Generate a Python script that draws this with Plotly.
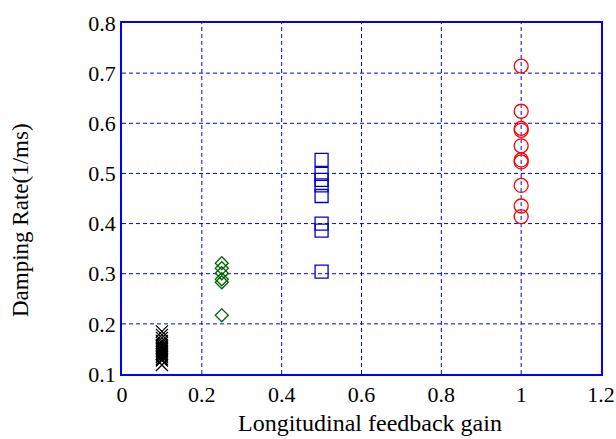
import plotly.graph_objects as go

gain_black = 0.1
rate_black = [0.185, 0.178, 0.172, 0.166, 0.162, 0.158, 0.155, 0.152, 0.149, 0.146,
              0.143, 0.140, 0.137, 0.134, 0.130, 0.127, 0.118]
gain_green = 0.25
rate_green = [0.321, 0.311, 0.301, 0.289, 0.283, 0.217]
gain_blue = 0.5
rate_blue = [0.527, 0.499, 0.487, 0.476, 0.455, 0.400, 0.386, 0.304]
gain_red = 1.0
rate_red = [0.714, 0.624, 0.590, 0.586, 0.555, 0.527, 0.523, 0.476, 0.435, 0.414]

xticks = [0, 0.2, 0.4, 0.6, 0.8, 1, 1.2]
xticklabels = ["0", "0.2", "0.4", "0.6", "0.8", "1", "1.2"]
yticks = [0.1, 0.2, 0.3, 0.4, 0.5, 0.6, 0.7, 0.8]
yticklabels = ["0.1", "0.2", "0.3", "0.4", "0.5", "0.6", "0.7", "0.8"]

fig = go.Figure()
series = [
    (gain_black, rate_black, "x-thin-open", "black", 12),
    (gain_green, rate_green, "diamond-open", "#006400", 10),
    (gain_blue, rate_blue, "square-open", "#0000cc", 13),
    (gain_red, rate_red, "circle-open", "red", 14),
]
for g, r, sym, col, sz in series:
    fig.add_trace(go.Scatter(
        x=[g] * len(r), y=r, mode="markers",
        marker=dict(symbol=sym, size=sz, color=col, line=dict(color=col, width=1.3)),
        showlegend=False,
    ))

# dashed blue grid drawn from the tick positions
grid_line = dict(color="#0000ff", width=1, dash="4px,3px")
for xv in xticks[1:-1]:
    fig.add_shape(type="line", xref="x", yref="paper", x0=xv, x1=xv, y0=0, y1=1,
                  line=grid_line, layer="below")
for yv in yticks[1:-1]:
    fig.add_shape(type="line", xref="paper", yref="y", x0=0, x1=1, y0=yv, y1=yv,
                  line=grid_line, layer="below")

font = "Liberation Serif"
axis_common = dict(
    showline=True, linecolor="#0000ff", linewidth=1.5, mirror=True,
    showgrid=False, zeroline=False, ticks="", automargin=False,
    tickfont=dict(family=font, size=22, color="black"),
)
fig.update_xaxes(range=[0, 1.2], tickvals=xticks, ticktext=xticklabels, **axis_common)
fig.update_yaxes(range=[0.1, 0.8], tickvals=yticks, ticktext=yticklabels, **axis_common)
fig.add_annotation(text="Longitudinal feedback gain", xref="paper", yref="paper",
                   x=0.5177, y=-0.14, xanchor="center", yanchor="middle", showarrow=False,
                   font=dict(family=font, size=24, color="black"))
fig.add_annotation(text="Damping Rate(1/ms)", xref="paper", yref="paper", textangle=-90,
                   x=-0.213, y=0.4387, xanchor="center", yanchor="middle", showarrow=False,
                   font=dict(family=font, size=23, color="black"))
fig.update_layout(
    width=616, height=439, autosize=False,
    margin=dict(l=122, r=15, t=23, b=65),
    plot_bgcolor="white", paper_bgcolor="white",
)
fig.write_html("out.html",
               config={"responsive": False, "displayModeBar": False},
               post_script="document.body.style.margin='0';document.body.style.overflow='hidden';")
